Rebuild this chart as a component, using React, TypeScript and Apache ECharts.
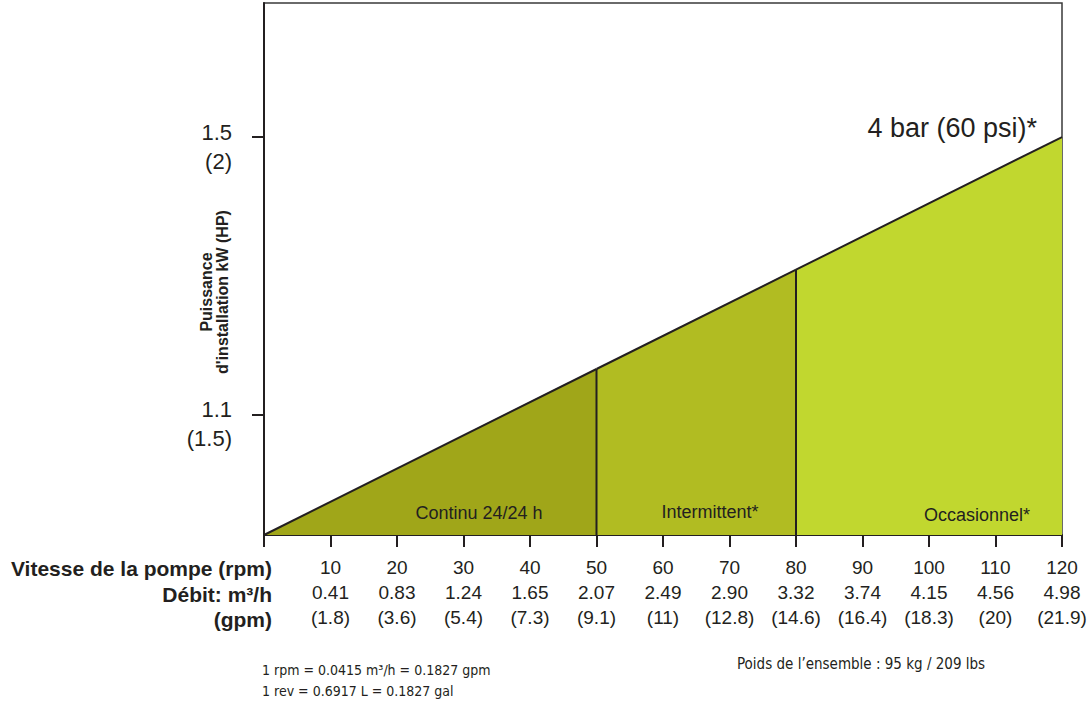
import React, { useEffect, useRef } from "react";
import * as echarts from "echarts";

// Pump speed ticks (rpm) and matching flow values
const rpmTicks = [10, 20, 30, 40, 50, 60, 70, 80, 90, 100, 110, 120];
const flowM3h = ["0.41", "0.83", "1.24", "1.65", "2.07", "2.49", "2.90", "3.32", "3.74", "4.15", "4.56", "4.98"];
const flowGpm = ["1.8", "3.6", "5.4", "7.3", "9.1", "11", "12.8", "14.6", "16.4", "18.3", "20", "21.9"];

// Power curve (kW) at zone boundaries
const curveRpm = [0, 50, 80, 120];
const curvePower = [0.927, 1.166, 1.309, 1.5];

// Y tick labels: kW and (HP)
const yTickKw = [1.1, 1.5];
const yTickHp = ["1.5", "2"];

// Zones
const zoneNames = ["Continu 24/24 h", "Intermittent*", "Occasionnel*"];
const zoneColors = ["#a0a619", "#b1bc22", "#c1d72f"];

const rowHeaders = ["Vitesse de la pompe (rpm)", "Débit: m³/h", "(gpm)"];

const Y_MIN = 0.927;
const Y_MAX = 1.693;

const FONT = "'Liberation Sans', Arial, Helvetica, sans-serif";
const NARROW = "'Liberation Sans Narrow', 'DejaVu Sans Condensed', 'Liberation Sans', sans-serif";
const INK = "#231f20";

export default function App() {
  const ref = useRef<HTMLDivElement>(null);

  useEffect(() => {
    if (!ref.current) return;
    const chart = echarts.init(ref.current, null, { renderer: "svg" });

    const zoneSeries = zoneNames.map((name, i) => ({
      name,
      type: "line",
      data: [
        [curveRpm[i], curvePower[i]],
        [curveRpm[i + 1], curvePower[i + 1]],
      ],
      symbol: "none",
      lineStyle: { color: INK, width: 2 },
      areaStyle: { color: zoneColors[i], opacity: 1, origin: "start" },
      z: 2,
    }));

    const dividerSeries = [1, 2].map((i) => ({
      name: "div" + i,
      type: "line",
      data: [
        [curveRpm[i], Y_MIN],
        [curveRpm[i], curvePower[i]],
      ],
      symbol: "none",
      lineStyle: { color: INK, width: 2 },
      z: 3,
    }));

    const option: any = {
      animation: false,
      backgroundColor: "#ffffff",
      grid: {
        left: 264,
        right: 28,
        top: 3,
        bottom: 169,
        show: true,
        borderColor: "#3a3a3a",
        borderWidth: 1.5,
        backgroundColor: "transparent",
      },
      xAxis: {
        type: "value",
        min: 0,
        max: 120,
        interval: 10,
        axisLine: { show: true, lineStyle: { color: INK, width: 2 } },
        axisTick: { show: true, length: 12, lineStyle: { color: INK, width: 2 } },
        splitLine: { show: false },
        axisLabel: {
          margin: 20,
          fontSize: 19,
          lineHeight: 25,
          color: INK,
          fontFamily: FONT,
          formatter: (v: number) => {
            const idx = rpmTicks.indexOf(v);
            if (idx < 0) return "";
            return `${rpmTicks[idx]}\n${flowM3h[idx]}\n(${flowGpm[idx]})`;
          },
        },
      },
      yAxis: {
        type: "value",
        min: Y_MIN,
        max: Y_MAX,
        axisLine: { show: true, lineStyle: { color: INK, width: 2 } },
        axisTick: { show: true, length: 12, customValues: yTickKw, lineStyle: { color: INK, width: 2 } },
        splitLine: { show: false },
        axisLabel: {
          customValues: yTickKw,
          margin: 32,
          color: INK,
          fontFamily: FONT,
          fontSize: 22,
          align: "right",
          formatter: (v: number) => {
            const idx = yTickKw.findIndex((t) => Math.abs(t - v) < 1e-6);
            if (idx < 0) return "";
            return `{a|${yTickKw[idx]}}\n{b|(${yTickHp[idx]})}`;
          },
          rich: {
            a: { fontSize: 22, lineHeight: 48, color: INK, fontFamily: FONT, align: "right" },
            b: { fontSize: 22, lineHeight: 10, color: INK, fontFamily: FONT, align: "right" },
          },
        },
      },
      series: [...zoneSeries, ...dividerSeries],
      graphic: [
        {
          type: "text",
          x: 214,
          y: 292,
          z: 100,
          rotation: Math.PI / 2,
          style: {
            text: "Puissance\nd'installation kW (HP)",
            font: `bold 16px ${FONT}`,
            lineHeight: 16,
            fill: INK,
            align: "center",
            verticalAlign: "middle",
          },
        },
        ...rowHeaders.map((t, i) => ({
          type: "text",
          x: 272,
          y: [568, 594, 619][i],
          z: 100,
          style: {
            text: t,
            font: `bold 21px ${FONT}`,
            fill: INK,
            align: "right",
            verticalAlign: "middle",
          },
        })),
        {
          type: "text",
          x: 1037,
          y: 128,
          z: 100,
          style: {
            text: "4 bar (60 psi)*",
            font: `27px ${FONT}`,
            fill: INK,
            align: "right",
            verticalAlign: "middle",
          },
        },
        ...zoneNames.map((t, i) => ({
          type: "text",
          x: [479, 710, 977][i],
          y: [513, 512, 515][i],
          z: 100,
          style: {
            text: t,
            font: `18px ${FONT}`,
            fill: INK,
            align: "center",
            verticalAlign: "middle",
          },
        })),
        {
          type: "text",
          x: 262,
          y: 670,
          z: 100,
          style: {
            text: "1 rpm = 0.0415 m³/h = 0.1827 gpm",
            font: `14px ${NARROW}`,
            fill: INK,
            align: "left",
            verticalAlign: "middle",
          },
        },
        {
          type: "text",
          x: 262,
          y: 691,
          z: 100,
          style: {
            text: "1 rev = 0.6917 L = 0.1827 gal",
            font: `14px ${NARROW}`,
            fill: INK,
            align: "left",
            verticalAlign: "middle",
          },
        },
        {
          type: "text",
          x: 737,
          y: 664,
          z: 100,
          style: {
            text: "Poids de l\u2019ensemble : 95 kg / 209 lbs",
            font: `15px ${NARROW}`,
            fill: INK,
            align: "left",
            verticalAlign: "middle",
          },
        },
      ],
    };

    chart.setOption(option);
    return () => chart.dispose();
  }, []);

  return (
    <div
      ref={ref}
      style={{ position: "fixed", left: 0, top: 0, width: 1090, height: 704, background: "#fff" }}
    />
  );
}
